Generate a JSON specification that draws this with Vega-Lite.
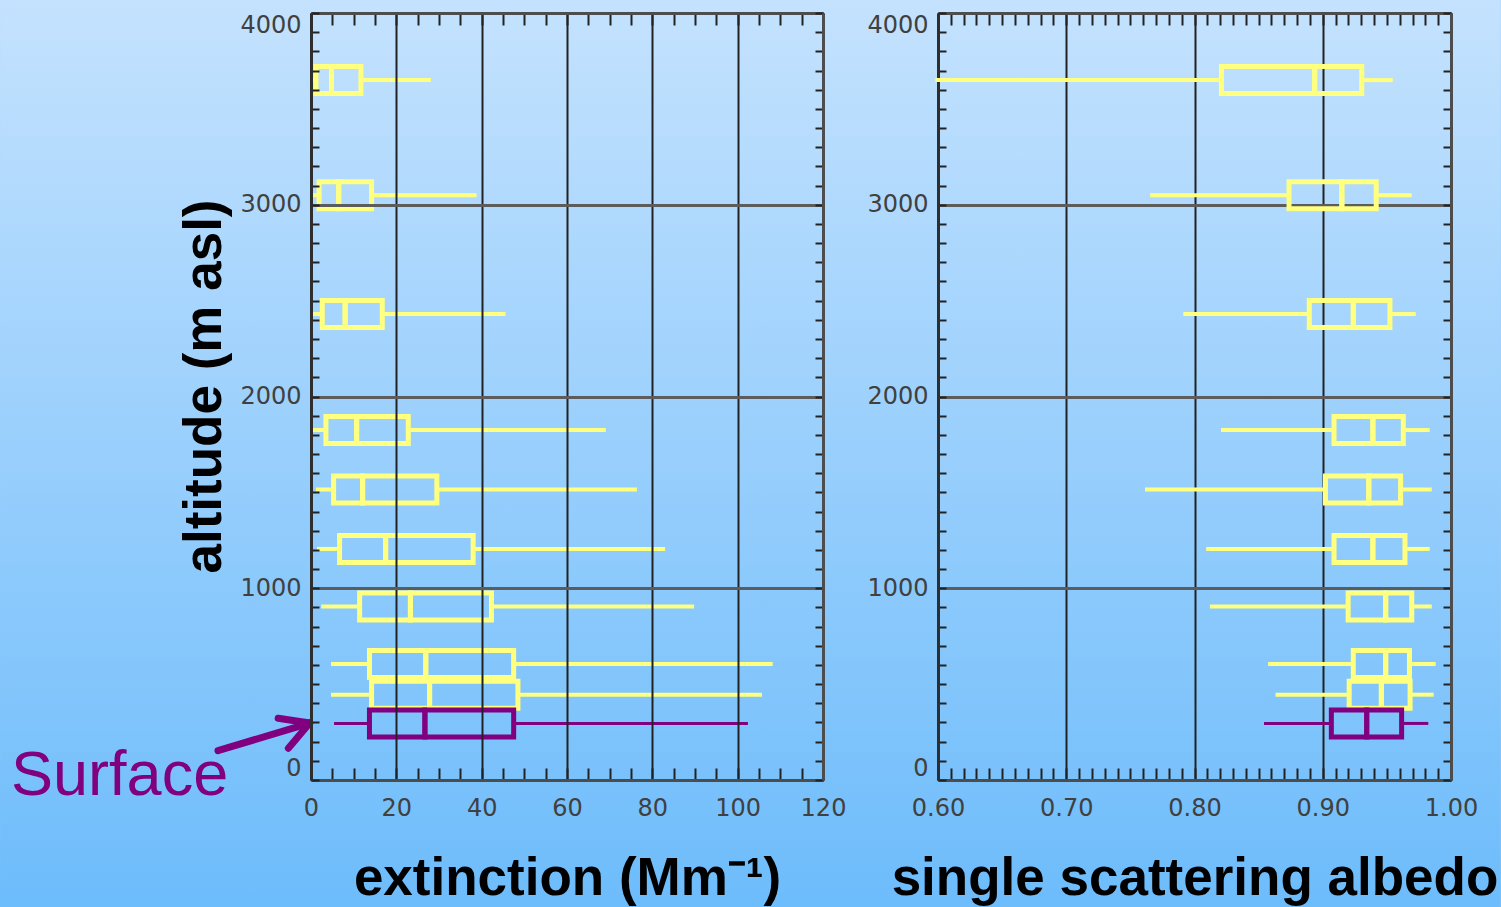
{
  "$schema": "https://vega.github.io/schema/vega-lite/v6.json",
  "padding": 0,
  "background": "#9ccffd",
  "bounds": "flush",
  "spacing": 115,
  "config": {
    "view": {"stroke": null},
    "scale": {"continuousPadding": 0},
    "axis": {"zindex": 2, "labelFont": "DejaVu Sans", "labelFontSize": 24, "labelColor": "#404040", "titleFont": "Liberation Sans", "titleFontSize": 53, "titleFontWeight": "bold", "titleColor": "#000000", "domainColor": "#4d4d4d", "domainWidth": 3, "tickColor": "#222222", "tickWidth": 2}
  },
  "datasets": {
    "ext": [
      {"alt": 3650, "min": 0.2, "q1": 1.15, "med": 4.8, "q3": 11.7, "max": 28.1, "level": "aloft"},
      {"alt": 3050, "min": 0.2, "q1": 1.9, "med": 6.5, "q3": 14.2, "max": 38.8, "level": "aloft"},
      {"alt": 2430, "min": 0.4, "q1": 2.65, "med": 8.0, "q3": 16.7, "max": 45.6, "level": "aloft"},
      {"alt": 1825, "min": 0.4, "q1": 3.5, "med": 10.7, "q3": 22.8, "max": 69.1, "level": "aloft"},
      {"alt": 1515, "min": 1.15, "q1": 5.3, "med": 12.1, "q3": 29.5, "max": 76.4, "level": "aloft"},
      {"alt": 1205, "min": 1.4, "q1": 6.7, "med": 17.5, "q3": 38.0, "max": 83.0, "level": "aloft"},
      {"alt": 905, "min": 2.4, "q1": 11.4, "med": 23.3, "q3": 42.3, "max": 89.8, "level": "aloft"},
      {"alt": 605, "min": 4.7, "q1": 13.7, "med": 26.9, "q3": 47.5, "max": 108.2, "level": "aloft"},
      {"alt": 445, "min": 4.7, "q1": 14.2, "med": 27.8, "q3": 48.5, "max": 105.7, "level": "aloft"},
      {"alt": 295, "min": 5.4, "q1": 13.7, "med": 26.7, "q3": 47.5, "max": 102.4, "level": "surface"}
    ],
    "ssa": [
      {"alt": 3650, "min": 0.598, "q1": 0.821, "med": 0.8937, "q3": 0.9304, "max": 0.9546, "level": "aloft"},
      {"alt": 3050, "min": 0.7654, "q1": 0.8737, "med": 0.9149, "q3": 0.9417, "max": 0.9694, "level": "aloft"},
      {"alt": 2430, "min": 0.7913, "q1": 0.8895, "med": 0.9238, "q3": 0.9524, "max": 0.9725, "level": "aloft"},
      {"alt": 1825, "min": 0.8207, "q1": 0.9088, "med": 0.9391, "q3": 0.9628, "max": 0.9834, "level": "aloft"},
      {"alt": 1515, "min": 0.7614, "q1": 0.9021, "med": 0.9359, "q3": 0.9607, "max": 0.985, "level": "aloft"},
      {"alt": 1205, "min": 0.8091, "q1": 0.9088, "med": 0.9391, "q3": 0.9641, "max": 0.9834, "level": "aloft"},
      {"alt": 905, "min": 0.812, "q1": 0.9198, "med": 0.9491, "q3": 0.9694, "max": 0.985, "level": "aloft"},
      {"alt": 605, "min": 0.8574, "q1": 0.9238, "med": 0.9491, "q3": 0.9676, "max": 0.9881, "level": "aloft"},
      {"alt": 445, "min": 0.8632, "q1": 0.9206, "med": 0.9457, "q3": 0.9681, "max": 0.9865, "level": "aloft"},
      {"alt": 295, "min": 0.8542, "q1": 0.9067, "med": 0.9343, "q3": 0.9615, "max": 0.9823, "level": "surface"}
    ],
    "arrow": [
      {"x": -21.8, "y": 153, "xe": -0.3, "ye": 297},
      {"x": -7.7, "y": 322, "xe": -0.3, "ye": 297},
      {"x": -5.3, "y": 165, "xe": -0.3, "ye": 297}
    ],
    "note": [
      {"x": -70.3, "y": -78, "t": "Surface"}
    ]
  },
  "hconcat": [
    {
      "width": 512,
      "height": 767,
      "data": {"name": "ext"},
      "resolve": {"axis": {"x": "independent", "y": "independent"}},
      "layer": [
        {
          "data": {"values": [{}]},
          "mark": {"type": "rect", "fill": {"gradient": "linear", "x1": 0, "y1": 0, "x2": 0, "y2": 1, "stops": [{"offset": 0, "color": "#c4e2fe"}, {"offset": 1, "color": "#6dbcfb"}]}},
          "encoding": {
            "x": {"datum": -72.88, "type": "quantitative", "scale": {"domain": [0, 120], "nice": false, "zero": false, "padding": 0}, "axis": null},
            "x2": {"datum": 278.85},
            "y": {"datum": -662.3, "type": "quantitative", "scale": {"domain": [0, 4000], "nice": false, "zero": false, "padding": 0}, "axis": null},
            "y2": {"datum": 4067.7}
          }
        },
        {
          "mark": {"type": "rule", "strokeCap": "butt"},
          "encoding": {
            "x": {"field": "min", "type": "quantitative",
              "axis": {"zindex": 2, "orient": "bottom", "values": [0, 20, 40, 60, 80, 100, 120], "grid": true, "gridColor": "#222222", "gridWidth": 2, "ticks": false, "tickSize": 0, "domain": false, "labelPadding": 16, "labelFlush": false, "title": "extinction (Mm⁻¹)", "titlePadding": 32}},
            "x2": {"field": "q1"},
            "y": {"field": "alt", "type": "quantitative",
              "axis": {"zindex": 2, "orient": "left", "values": [0, 1000, 2000, 3000, 4000], "format": "d", "grid": true, "gridColor": "#5c5c5c", "gridWidth": 3, "ticks": false, "tickSize": 0, "domain": false, "labelPadding": 10, "labelFlush": true, "title": "altitude (m asl)", "titlePadding": 8, "titleY": 373}},
            "color": {"field": "level", "type": "nominal", "scale": {"domain": ["aloft", "surface"], "range": ["#ffff80", "#800080"]}, "legend": null},
            "strokeWidth": {"field": "level", "type": "ordinal", "scale": {"domain": ["aloft", "surface"], "range": [4, 3]}, "legend": null}
          }
        },
        {
          "mark": {"type": "rule", "strokeCap": "butt"},
          "encoding": {
            "x": {"field": "q3", "type": "quantitative",
              "axis": {"zindex": 2, "orient": "bottom", "values": [0, 5, 10, 15, 20, 25, 30, 35, 40, 45, 50, 55, 60, 65, 70, 75, 80, 85, 90, 95, 100, 105, 110, 115, 120], "grid": false, "ticks": true, "tickSize": -12, "labels": false, "domain": true, "title": null}},
            "x2": {"field": "max"},
            "y": {"field": "alt", "type": "quantitative",
              "axis": {"zindex": 2, "orient": "left", "values": [0, 100, 200, 300, 400, 500, 600, 700, 800, 900, 1000, 1100, 1200, 1300, 1400, 1500, 1600, 1700, 1800, 1900, 2000, 2100, 2200, 2300, 2400, 2500, 2600, 2700, 2800, 2900, 3000, 3100, 3200, 3300, 3400, 3500, 3600, 3700, 3800, 3900, 4000], "grid": false, "ticks": true, "tickSize": -8, "labels": false, "domain": true, "domainColor": "#2e2e2e", "title": null}},
            "color": {"field": "level", "type": "nominal", "legend": null},
            "strokeWidth": {"field": "level", "type": "ordinal", "legend": null}
          }
        },
        {
          "mark": {"type": "bar", "filled": false, "size": 27, "strokeWidth": 5},
          "encoding": {
            "x": {"field": "q1", "type": "quantitative",
              "axis": {"zindex": 2, "orient": "top", "values": [0, 5, 10, 15, 20, 25, 30, 35, 40, 45, 50, 55, 60, 65, 70, 75, 80, 85, 90, 95, 100, 105, 110, 115, 120], "grid": false, "ticks": true, "tickSize": -12, "labels": false, "domain": true, "title": null}},
            "x2": {"field": "med"},
            "y": {"field": "alt", "type": "quantitative",
              "axis": {"zindex": 2, "orient": "right", "values": [0, 100, 200, 300, 400, 500, 600, 700, 800, 900, 1000, 1100, 1200, 1300, 1400, 1500, 1600, 1700, 1800, 1900, 2000, 2100, 2200, 2300, 2400, 2500, 2600, 2700, 2800, 2900, 3000, 3100, 3200, 3300, 3400, 3500, 3600, 3700, 3800, 3900, 4000], "grid": false, "ticks": true, "tickSize": -8, "labels": false, "domain": true, "title": null}},
            "color": {"field": "level", "type": "nominal", "legend": null}
          }
        },
        {
          "mark": {"type": "bar", "filled": false, "size": 27, "strokeWidth": 5},
          "encoding": {
            "x": {"field": "med", "type": "quantitative", "axis": null},
            "x2": {"field": "q3"},
            "y": {"field": "alt", "type": "quantitative", "axis": null},
            "color": {"field": "level", "type": "nominal", "legend": null}
          }
        },
        {
          "data": {"name": "arrow"},
          "mark": {"type": "rule", "color": "#800080", "strokeWidth": 7, "strokeCap": "round"},
          "encoding": {
            "x": {"field": "x", "type": "quantitative", "axis": null},
            "x2": {"field": "xe"},
            "y": {"field": "y", "type": "quantitative", "axis": null},
            "y2": {"field": "ye"}
          }
        },
        {
          "data": {"name": "note"},
          "mark": {"type": "text", "align": "left", "baseline": "alphabetic", "font": "Liberation Sans", "fontSize": 63, "color": "#800080"},
          "encoding": {
            "x": {"field": "x", "type": "quantitative", "axis": null},
            "y": {"field": "y", "type": "quantitative", "axis": null},
            "text": {"field": "t"}
          }
        }
      ]
    },
    {
      "width": 513,
      "height": 767,
      "data": {"name": "ssa"},
      "resolve": {"axis": {"x": "independent", "y": "independent"}},
      "layer": [
        {
          "mark": {"type": "rule", "strokeCap": "butt"},
          "encoding": {
            "x": {"field": "min", "type": "quantitative", "scale": {"domain": [0.6, 1.0], "nice": false, "zero": false, "padding": 0},
              "axis": {"orient": "bottom", "values": [0.6, 0.7, 0.8, 0.9, 1.0], "format": ".2f", "grid": true, "gridColor": "#222222", "gridWidth": 2, "ticks": false, "tickSize": 0, "domain": false, "labelPadding": 16, "labelFlush": false, "title": "single scattering albedo", "titlePadding": 32}},
            "x2": {"field": "q1"},
            "y": {"field": "alt", "type": "quantitative", "scale": {"domain": [0, 4000], "nice": false, "zero": false, "padding": 0},
              "axis": {"orient": "left", "values": [0, 1000, 2000, 3000, 4000], "format": "d", "grid": true, "gridColor": "#5c5c5c", "gridWidth": 3, "ticks": false, "tickSize": 0, "domain": false, "labelPadding": 10, "labelFlush": true, "title": null}},
            "color": {"field": "level", "type": "nominal", "scale": {"domain": ["aloft", "surface"], "range": ["#ffff80", "#800080"]}, "legend": null},
            "strokeWidth": {"field": "level", "type": "ordinal", "scale": {"domain": ["aloft", "surface"], "range": [4, 3]}, "legend": null}
          }
        },
        {
          "mark": {"type": "rule", "strokeCap": "butt"},
          "encoding": {
            "x": {"field": "q3", "type": "quantitative",
              "axis": {"orient": "bottom", "values": [0.6, 0.61, 0.62, 0.63, 0.64, 0.65, 0.66, 0.67, 0.68, 0.69, 0.7, 0.71, 0.72, 0.73, 0.74, 0.75, 0.76, 0.77, 0.78, 0.79, 0.8, 0.81, 0.82, 0.83, 0.84, 0.85, 0.86, 0.87, 0.88, 0.89, 0.9, 0.91, 0.92, 0.93, 0.94, 0.95, 0.96, 0.97, 0.98, 0.99, 1.0], "grid": false, "ticks": true, "tickSize": -12, "labels": false, "domain": true, "title": null}},
            "x2": {"field": "max"},
            "y": {"field": "alt", "type": "quantitative",
              "axis": {"orient": "left", "values": [0, 100, 200, 300, 400, 500, 600, 700, 800, 900, 1000, 1100, 1200, 1300, 1400, 1500, 1600, 1700, 1800, 1900, 2000, 2100, 2200, 2300, 2400, 2500, 2600, 2700, 2800, 2900, 3000, 3100, 3200, 3300, 3400, 3500, 3600, 3700, 3800, 3900, 4000], "grid": false, "ticks": true, "tickSize": -8, "labels": false, "domain": true, "domainColor": "#2e2e2e", "title": null}},
            "color": {"field": "level", "type": "nominal", "legend": null},
            "strokeWidth": {"field": "level", "type": "ordinal", "legend": null}
          }
        },
        {
          "mark": {"type": "bar", "filled": false, "size": 27, "strokeWidth": 5},
          "encoding": {
            "x": {"field": "q1", "type": "quantitative",
              "axis": {"orient": "top", "values": [0.6, 0.61, 0.62, 0.63, 0.64, 0.65, 0.66, 0.67, 0.68, 0.69, 0.7, 0.71, 0.72, 0.73, 0.74, 0.75, 0.76, 0.77, 0.78, 0.79, 0.8, 0.81, 0.82, 0.83, 0.84, 0.85, 0.86, 0.87, 0.88, 0.89, 0.9, 0.91, 0.92, 0.93, 0.94, 0.95, 0.96, 0.97, 0.98, 0.99, 1.0], "grid": false, "ticks": true, "tickSize": -12, "labels": false, "domain": true, "title": null}},
            "x2": {"field": "med"},
            "y": {"field": "alt", "type": "quantitative",
              "axis": {"orient": "right", "values": [0, 100, 200, 300, 400, 500, 600, 700, 800, 900, 1000, 1100, 1200, 1300, 1400, 1500, 1600, 1700, 1800, 1900, 2000, 2100, 2200, 2300, 2400, 2500, 2600, 2700, 2800, 2900, 3000, 3100, 3200, 3300, 3400, 3500, 3600, 3700, 3800, 3900, 4000], "grid": false, "ticks": true, "tickSize": -8, "labels": false, "domain": true, "title": null}},
            "color": {"field": "level", "type": "nominal", "legend": null}
          }
        },
        {
          "mark": {"type": "bar", "filled": false, "size": 27, "strokeWidth": 5},
          "encoding": {
            "x": {"field": "med", "type": "quantitative", "axis": null},
            "x2": {"field": "q3"},
            "y": {"field": "alt", "type": "quantitative", "axis": null},
            "color": {"field": "level", "type": "nominal", "legend": null}
          }
        }
      ]
    }
  ]
}
